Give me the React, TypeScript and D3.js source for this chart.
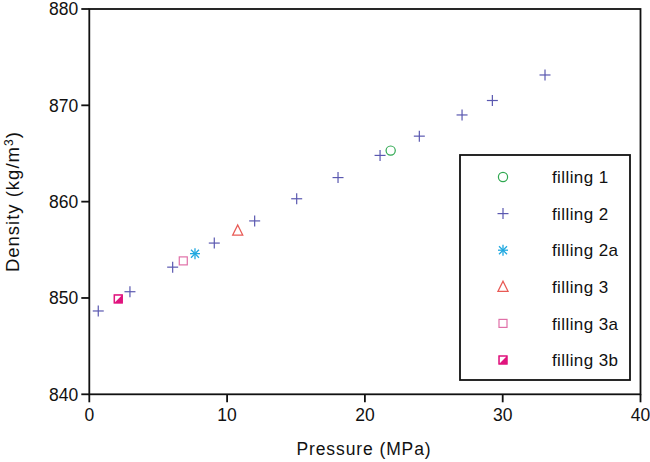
import React from "react";
import * as d3 from "d3";

const xTicks = [0, 10, 20, 30, 40];
const yTicks = [840, 850, 860, 870, 880];

const filling1 = [{ p: 21.87, d: 865.3 }];
const filling2 = [
  { p: 0.65, d: 848.65 },
  { p: 2.95, d: 850.65 },
  { p: 6.05, d: 853.2 },
  { p: 9.07, d: 855.7 },
  { p: 12.0, d: 858.0 },
  { p: 15.05, d: 860.3 },
  { p: 18.05, d: 862.5 },
  { p: 21.1, d: 864.8 },
  { p: 23.95, d: 866.8 },
  { p: 27.05, d: 869.0 },
  { p: 29.25, d: 870.5 },
  { p: 33.07, d: 873.15 },
];
const filling2a = [{ p: 7.67, d: 854.6 }];
const filling3 = [{ p: 10.77, d: 857.0 }];
const filling3a = [{ p: 6.82, d: 853.85 }];
const filling3b = [{ p: 2.1, d: 849.9 }];

const legendNames = ["filling 1", "filling 2", "filling 2a", "filling 3", "filling 3a", "filling 3b"];

const C1 = "#2fa850";
const C2 = "#5a58b0";
const C2a = "#1fa8e0";
const C3 = "#e85a55";
const C3a = "#e070a8";
const C3b = "#e0147e";

function Marker({ kind, x, y }: { kind: string; x: number; y: number }) {
  switch (kind) {
    case "filling 1":
      return <circle cx={x} cy={y} r={4.6} fill="none" stroke={C1} strokeWidth={1.2} />;
    case "filling 2":
      return (
        <g stroke={C2} strokeWidth={1.2}>
          <line x1={x - 5.5} x2={x + 5.5} y1={y} y2={y} />
          <line x1={x} x2={x} y1={y - 5.5} y2={y + 5.5} />
        </g>
      );
    case "filling 2a":
      return (
        <g stroke={C2a} strokeWidth={1.3}>
          <line x1={x - 5} x2={x + 5} y1={y} y2={y} />
          <line x1={x} x2={x} y1={y - 5.5} y2={y + 5.5} />
          <line x1={x - 4} x2={x + 4} y1={y - 4} y2={y + 4} />
          <line x1={x - 4} x2={x + 4} y1={y + 4} y2={y - 4} />
        </g>
      );
    case "filling 3":
      return (
        <path
          d={`M${x},${y - 5.5}L${x + 5},${y + 4.5}L${x - 5},${y + 4.5}Z`}
          fill="none"
          stroke={C3}
          strokeWidth={1.3}
        />
      );
    case "filling 3a":
      return <rect x={x - 4} y={y - 4} width={8} height={8} fill="none" stroke={C3a} strokeWidth={1.2} />;
    case "filling 3b":
      return (
        <g>
          <rect x={x - 4.2} y={y - 4.2} width={8.4} height={8.4} fill={C3b} stroke={C3b} strokeWidth={1} />
          <path d={`M${x - 3.2},${y - 3.2}L${x + 3.2},${y - 3.2}L${x - 3.2},${y + 3.2}Z`} fill="white" />
        </g>
      );
    default:
      return null;
  }
}

export default function App() {
  const W = 650;
  const H = 462;
  const x = d3.scaleLinear().domain([0, 40]).range([89.3, 640.5]);
  const y = d3.scaleLinear().domain([840, 880]).range([394.3, 9]);
  const font = "Liberation Sans, Arial, Helvetica, sans-serif";

  const series: [string, { p: number; d: number }[]][] = [
    ["filling 2", filling2],
    ["filling 1", filling1],
    ["filling 2a", filling2a],
    ["filling 3", filling3],
    ["filling 3a", filling3a],
    ["filling 3b", filling3b],
  ];

  const lgX = 460, lgY = 155, lgW = 170, lgH = 225;
  const rowY = (i: number) => 177 + i * 36.6;
  const ink = "#111";

  return (
    <svg width={W} height={H} style={{ position: "absolute", left: 0, top: 0 }} fontFamily={font}>
      <rect width={W} height={H} fill="white" />
      {/* frame */}
      <rect
        x={x(0)}
        y={y(880)}
        width={x(40) - x(0)}
        height={y(840) - y(880)}
        fill="none"
        stroke={ink}
        strokeWidth={1.8}
      />
      {/* y ticks */}
      {yTicks.map((t) => (
        <g key={"y" + t}>
          <line x1={x(0) - 8} x2={x(0)} y1={y(t)} y2={y(t)} stroke={ink} strokeWidth={1.8} />
          <text x={x(0) - 11} y={y(t)} dy="0.36em" textAnchor="end" fontSize={17.5} fill={ink}>
            {t}
          </text>
        </g>
      ))}
      {/* x ticks */}
      {xTicks.map((t) => (
        <g key={"x" + t}>
          <line x1={x(t)} x2={x(t)} y1={y(840)} y2={y(840) + 8} stroke={ink} strokeWidth={1.8} />
          <text x={x(t)} y={421} textAnchor="middle" fontSize={17.5} fill={ink}>
            {t}
          </text>
        </g>
      ))}
      <text x={364} y={455} textAnchor="middle" fontSize={17.5} letterSpacing={0.9} fill={ink}>
        Pressure (MPa)
      </text>
      <text
        transform={`translate(19,${(y(840) + y(880)) / 2}) rotate(-90)`}
        textAnchor="middle"
        fontSize={18.5}
        letterSpacing={1}
        fill={ink}
      >
        Density (kg/m<tspan dy="-6.5" fontSize={12}>3</tspan>
        <tspan dy="6.5">)</tspan>
      </text>
      {/* points */}
      {series.map(([name, pts]) =>
        pts.map((pt, i) => <Marker key={name + i} kind={name} x={x(pt.p)} y={y(pt.d)} />)
      )}
      {/* legend */}
      <rect x={lgX} y={lgY} width={lgW} height={lgH} fill="white" stroke={ink} strokeWidth={1.8} />
      {legendNames.map((n, i) => (
        <g key={n}>
          <Marker kind={n} x={503} y={rowY(i)} />
          <text x={552} y={rowY(i)} dy="0.36em" fontSize={17} letterSpacing={0.4} fill={ink}>
            {n}
          </text>
        </g>
      ))}
    </svg>
  );
}
